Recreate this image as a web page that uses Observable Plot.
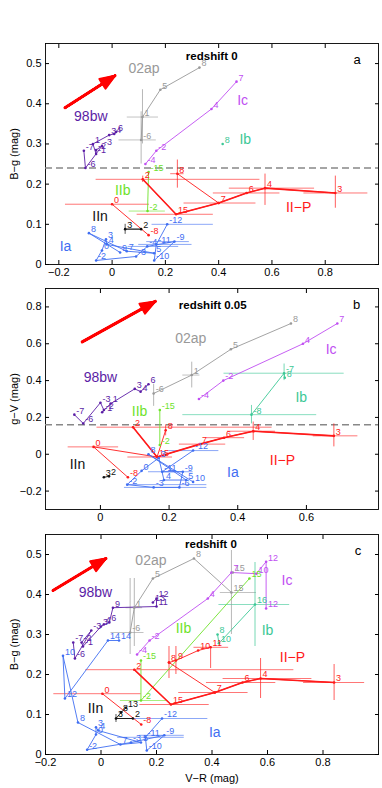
<!DOCTYPE html>
<html><head><meta charset="utf-8">
<script src="https://cdn.jsdelivr.net/npm/d3@7"></script>
<script src="https://cdn.jsdelivr.net/npm/@observablehq/plot@0.6"></script>
<style>body{margin:0;background:#fff;} #chart svg{display:block;background:#fff}</style>
</head><body><div id="chart"></div>
<script>
// ---------- colours per SN type ----------
const typeColors = {"98bw":"#5b1da6","02ap":"#999999","Ic":"#c04ef2","Ib":"#3cc896","IIb":"#6ee22a","II-P":"#ff1a1a","IIn":"#111111","Ia":"#3f6ef2"};

// ---------- panel a : redshift 0, B-g vs V-R ----------
// [epoch label, V-R, colour, track]
const a_98bw = [["-7",-0.106,0.283],["-6",-0.10,0.24],["-3",-0.038,0.295],["-2",-0.06,0.285],["-1",-0.06,0.275],["1",-0.072,0.30],["3",-0.011,0.322],["4",0.008,0.325],["6",0.015,0.33]];
const a_02ap = [["-6",0.109,0.31],["1",0.114,0.367],["5",0.181,0.435],["8",0.328,0.49]];
const a_Ic = [["-4",0.125,0.25],["-2",0.166,0.283],["4",0.373,0.387],["7",0.467,0.455]];
const a_Ib = [["8",0.415,0.30]];
const a_IIb = [["-15",0.137,0.23],["-2",0.133,0.133]];
const a_IIP = [["-8",0.137,0.073,0],["0",0.0,0.15,0],["2",0.115,0.212,1],["15",0.24,0.125,1],["7",0.40,0.153,1],["6",0.505,0.178,1],["4",0.574,0.19,1],["3",0.838,0.178,1],["8",0.245,0.226,2],["",0.40,0.153,2]];
const a_IIn = [["3",0.049,0.088],["2",0.109,0.088]];
const a_Ia = [["-12",0.207,0.10],["-11",0.166,0.05],["-10",0.158,0.01],["-9",0.234,0.057],["-4",0.132,0.045],["-3",0.09,0.02],["-2",-0.06,0.01],["0",-0.038,0.035],["3",-0.023,0.063],["4",-0.02,0.05],["5",0.158,0.028],["7",0.055,0.033],["8",-0.087,0.078],["9",0.03,0.03]];
// [type, x, y, xlo, xhi, ylo, yhi]
const a_err = [
 ["02ap",0.114,0.367,0.057,0.174,0.30,0.435],["02ap",0.109,0.31,0.026,0.166,0.25,0.38],
 ["IIb",0.133,0.133,0.064,0.2,null,null],
 ["II-P",0.0,0.15,-0.175,0.14,null,null],["II-P",0.115,0.212,-0.06,0.555,0.204,0.22],
 ["II-P",0.245,0.226,0.22,0.27,0.19,0.26],["II-P",0.24,0.125,0.094,0.38,null,null],
 ["II-P",0.40,0.153,0.27,0.54,null,null],["II-P",0.505,0.178,0.38,0.63,null,null],
 ["II-P",0.574,0.19,0.44,0.76,0.147,0.225],["II-P",0.838,0.178,0.72,0.96,0.14,0.22],
 ["IIn",0.049,0.088,0.049,0.109,0.075,0.1],
 ["Ia",0.207,0.10,0.15,0.38,null,null],["Ia",0.166,0.05,0.10,0.30,null,null],
 ["Ia",0.234,0.057,0.13,0.29,null,null],["Ia",0.132,0.045,0.06,0.25,null,null]];
const a_names = [["98bw",-0.08,0.368,"98bw"],["02ap",0.12,0.487,"02ap"],["Ic",0.49,0.407,"Ic"],["Ib",0.50,0.31,"Ib"],["IIb",0.04,0.185,"IIb"],["IIn",-0.045,0.12,"IIn"],["II−P",0.70,0.143,"II-P"],["Ia",-0.175,0.045,"Ia"]];
const a_arrow = [-0.177,0.39,0.011,0.47];

// ---------- panel b : redshift 0.05, g-V vs V-R ----------
const b_98bw = [["-7",-0.076,0.215],["-6",-0.05,0.167],["-3",0.0,0.28],["-2",0.01,0.24],["-1",0.005,0.228],["1",0.03,0.275],["3",0.10,0.355],["4",0.117,0.34],["6",0.14,0.38]];
const b_02ap = [["-6",0.155,0.33],["1",0.266,0.43],["5",0.38,0.57],["8",0.555,0.71]];
const b_Ic = [["-4",0.287,0.30],["-2",0.358,0.40],["4",0.59,0.60],["7",0.69,0.71]];
const b_Ib = [["-8",0.44,0.215],["-7",0.535,0.44],["8",0.537,0.415]];
const b_IIb = [["-15",0.173,0.24],["-2",0.173,0.05]];
const b_IIP = [["-8",0.08,-0.125,0],["0",-0.02,0.04,0],["",0.165,-0.015,0],["2",0.095,0.147,1],["15",0.165,-0.015,1],["7",0.29,0.055,1],["6",0.36,0.09,1],["4",0.445,0.125,1],["3",0.68,0.10,1],["8",0.19,0.13,2],["",0.165,-0.015,2]];
const b_IIn = [["3",0.01,-0.125],["2",0.025,-0.12]];
const b_Ia = [["-12",0.27,0.02],["-11",0.18,-0.095],["-9",0.24,-0.095],["-6",0.23,-0.18],["-3",0.155,-0.18],["-2",0.078,-0.165],["0",0.12,-0.09],["3",0.17,-0.02],["4",0.185,-0.14],["5",0.25,-0.14],["8",0.14,0.0],["10",0.27,-0.15]];
const b_err = [
 ["02ap",0.155,0.33,null,null,0.26,0.38],["02ap",0.266,0.43,0.24,0.29,0.36,0.50],
 ["Ib",0.535,0.44,0.36,0.71,0.40,0.49],["Ib",0.44,0.215,0.24,0.63,0.165,0.265],
 ["II-P",-0.02,0.04,-0.094,0.053,null,null],["II-P",0.095,0.147,-0.01,0.50,null,null],
 ["II-P",0.19,0.13,null,null,0.10,0.16],["II-P",0.165,-0.015,0.08,0.21,null,null],
 ["II-P",0.29,0.055,0.23,0.365,null,null],["II-P",0.36,0.09,0.31,0.42,null,null],
 ["II-P",0.445,0.125,0.37,0.51,0.075,0.175],["II-P",0.68,0.10,0.62,0.75,0.04,0.165],
 ["Ia",0.27,0.02,0.195,0.345,null,null],["Ia",0.18,-0.095,0.14,0.27,null,null],
 ["Ia",0.155,-0.18,0.07,0.31,null,null],["Ia",0.25,-0.165,0.08,0.31,null,null]];
const b_names = [["98bw",0.0,0.416,"98bw"],["02ap",0.263,0.63,"02ap"],["Ic",0.672,0.567,"Ic"],["Ib",0.585,0.31,"Ib"],["IIb",0.114,0.23,"IIb"],["IIn",-0.067,-0.054,"IIn"],["II−P",0.53,-0.032,"II-P"],["Ia",0.386,-0.1,"Ia"]];
const b_arrow = [-0.053,0.61,0.16,0.83];

// ---------- panel c : redshift 0, B-g vs V-R, extended epochs ----------
const c_98bw = [["-7",-0.1,0.28],["-6",-0.094,0.24],["-3",-0.035,0.31],["-2",-0.07,0.28],["-1",-0.065,0.27],["3",0.0,0.32],["4",0.01,0.325],["6",0.03,0.33],["9",0.043,0.367],["11",0.2,0.37],["12",0.2,0.39],["13",0.187,0.38]];
const c_02ap = [["-6",0.105,0.305,0],["1",0.12,0.367,0],["5",0.187,0.44,0],["8",0.335,0.49,0],["15",0.47,0.405,0],["15",0.475,0.455,1]];
const c_Ic = [["-4",0.13,0.25],["-2",0.175,0.285],["4",0.385,0.39],["7",0.47,0.455],["10",0.56,0.452],["12",0.595,0.482],["12",0.595,0.365]];
const c_Ib = [["8",0.42,0.30],["10",0.425,0.278],["16",0.555,0.375]];
const c_IIb = [["-15",0.144,0.235],["-2",0.144,0.135],["15",0.535,0.44]];
const c_IIP = [["-8",0.145,0.075,0],["0",0.005,0.152,0],["2",0.12,0.212,1],["15",0.252,0.125,1],["7",0.41,0.155,1],["6",0.51,0.18,1],["4",0.575,0.19,1],["3",0.84,0.18,1],["8",0.245,0.23,2],["",0.41,0.155,2],["",0.245,0.23,3],["9",0.27,0.235,3],["10",0.35,0.26,3],["11",0.395,0.268,3]];
const c_IIn = [["2",0.115,0.09],["3",0.054,0.09],["8",0.072,0.105],["13",0.09,0.117]];
const c_Ia = [["-12",0.22,0.09],["-11",0.16,0.043],["-10",0.165,0.01],["-9",0.228,0.048],["-3",0.108,0.03],["-2",-0.05,0.012],["0",-0.018,0.05],["3",-0.018,0.068],["4",-0.01,0.06],["5",0.144,0.03],["7",0.07,0.025],["8",-0.083,0.08],["10",-0.137,0.247],["12",-0.13,0.14],["14",0.025,0.285],["14",0.065,0.285]];
const c_err = [
 ["02ap",0.105,0.305,0.036,0.155,0.25,0.44],["02ap",0.12,0.367,0.09,0.15,0.27,0.44],
 ["02ap",0.47,0.405,0.43,0.56,0.30,0.51],
 ["Ib",0.555,0.375,0.425,0.68,0.27,0.48],
 ["IIb",0.144,0.135,0.07,0.24,null,null],
 ["II-P",0.005,0.152,-0.17,0.145,null,null],["II-P",0.12,0.212,-0.055,0.695,null,null],
 ["II-P",0.245,0.23,null,null,0.19,0.27],["II-P",0.27,0.235,null,null,0.20,0.27],
 ["II-P",0.395,0.268,0.335,0.46,0.215,0.27],["II-P",0.252,0.125,0.14,0.39,null,null],
 ["II-P",0.41,0.155,0.28,0.53,null,null],["II-P",0.51,0.18,0.38,0.63,null,null],
 ["II-P",0.575,0.19,0.44,0.76,0.14,0.24],["II-P",0.84,0.18,0.73,0.95,0.135,0.225],
 ["IIn",0.054,0.09,0.054,0.115,0.08,0.1],
 ["Ia",0.22,0.09,0.1,0.385,null,null],["Ia",0.16,0.043,0.06,0.3,null,null],["Ia",0.228,0.048,0.14,0.3,null,null]];
const c_names = [["98bw",-0.02,0.405,"98bw"],["02ap",0.18,0.485,"02ap"],["Ic",0.67,0.435,"Ic"],["Ib",0.60,0.31,"Ib"],["IIb",0.297,0.315,"IIb"],["IIn",-0.02,0.115,"IIn"],["II−P",0.69,0.243,"II-P"],["Ia",0.41,0.055,"Ia"]];
const c_arrow = [-0.173,0.41,0.018,0.49];

// ---------- axis ticks ----------
const xTicksAC = [-0.2,0,0.2,0.4,0.6,0.8];
const yTicksAC = [0,0.1,0.2,0.3,0.4,0.5];
const xTicksB = [0,0.2,0.4,0.6];
const yTicksB = [-0.2,0,0.2,0.4,0.6,0.8];

// ---------- helpers ----------
const fmt = d => d === 0 ? "0" : d3.format(".1f")(d);
function flatten(series){
  const out = [];
  for (const [type, arr] of Object.entries(series))
    arr.forEach(([label,x,y,track=0]) => out.push({type,label,x,y,track:type+"_"+track,color:typeColors[type]}));
  return out;
}
function panel(cfg){
  const pts = flatten(cfg.series);
  const errs = cfg.errs.map(([type,x,y,xlo,xhi,ylo,yhi]) => ({type,x,y,xlo,xhi,ylo,yhi,color:typeColors[type]}));
  const names = cfg.names.map(([text,x,y,type]) => ({text,x,y,color:typeColors[type]}));
  const A = cfg.arrow;
  const arr = {x1:d=>d[0],y1:d=>d[1],x2:d=>d[2],y2:d=>d[3]};
  const wedge = d3.range(0, 24, 3).map(h => Plot.arrow([A], {...arr, stroke:"#ff0000", strokeWidth:2, headAngle:2*h, headLength:0.75*15/Math.cos(h*Math.PI/180)}));
  const marks = [
    Plot.frame({stroke:"#000", strokeWidth:0.9}),
    cfg.dashed != null ? Plot.ruleY([cfg.dashed], {stroke:"#888", strokeWidth:1.4, strokeDasharray:"7,4"}) : null,
    Plot.ruleY(errs.filter(d=>d.xlo!=null), {y:"y", x1:"xlo", x2:"xhi", stroke:"color", strokeOpacity:0.6, strokeWidth:1}),
    Plot.ruleX(errs.filter(d=>d.ylo!=null), {x:"x", y1:"ylo", y2:"yhi", stroke:"color", strokeOpacity:0.7, strokeWidth:1}),
    Plot.line(pts, {x:"x", y:"y", z:"track", stroke:"color", strokeWidth:0.9}),
    Plot.line(pts.filter(d=>d.track==="II-P_1"), {x:"x", y:"y", stroke:"color", strokeWidth:1.6}),
    Plot.dot(pts, {x:"x", y:"y", r:1.3, fill:"color"}),
    Plot.text(pts, {x:"x", y:"y", text:"label", fill:"color", dx:2, dy:-4, textAnchor:"start", fontSize:9}),
    Plot.text(names, {x:"x", y:"y", text:"text", fill:"color", fontSize:14}),
    Plot.text([cfg.title], {x:d=>d[1], y:d=>d[2], text:d=>d[0], fontWeight:"bold", fontSize:11.5, fill:"#000"}),
    Plot.text([cfg.letter], {x:d=>d[1], y:d=>d[2], text:d=>d[0], fontSize:13, fill:"#000"}),
    Plot.arrow([A], {...arr, stroke:"#ff0000", strokeWidth:3, headLength:0}),
    ...wedge,
    Plot.axisX(cfg.xTicks, {tickSize:0, tickPadding:4, tickFormat:fmt, fontSize:11, label: cfg.xLabel ?? null, labelAnchor:"center", labelOffset:27, labelArrow:"none"}),
    Plot.axisX(cfg.xTicks, {anchor:"bottom", tickSize:-4, tickFormat:()=>"", label:null}),
    Plot.axisX(cfg.xTicks, {anchor:"top", tickSize:-4, tickFormat:()=>"", label:null}),
    Plot.axisY(cfg.yTicks, {tickSize:0, tickPadding:4, tickFormat:fmt, fontSize:11, label:cfg.yLabel, labelAnchor:"center", labelOffset:35, labelArrow:"none"}),
    Plot.axisY(cfg.yTicks, {anchor:"left", tickSize:-4, tickFormat:()=>"", label:null}),
    Plot.axisY(cfg.yTicks, {anchor:"right", tickSize:-4, tickFormat:()=>"", label:null})
  ].filter(Boolean);
  return Plot.plot({
    width:382, height:cfg.height,
    marginLeft:45, marginRight:4, marginTop:cfg.marginTop, marginBottom:cfg.marginBottom,
    x:{domain:cfg.xDomain}, y:{domain:cfg.yDomain},
    color:{type:"identity"},
    style:{fontFamily:"'Liberation Sans', Arial, Helvetica, sans-serif", fontSize:"11px", background:"#fff", overflow:"visible"},
    marks
  });
}

const chart = document.getElementById("chart");
chart.append(panel({height:280, marginTop:43, marginBottom:16, xDomain:[-0.25,1.0], yDomain:[0,0.55],
  xTicks:xTicksAC, yTicks:yTicksAC, yLabel:"B−g (mag)", dashed:0.24,
  series:{"98bw":a_98bw,"02ap":a_02ap,"Ic":a_Ic,"Ib":a_Ib,"IIb":a_IIb,"II-P":a_IIP,"IIn":a_IIn,"Ia":a_Ia},
  errs:a_err, names:a_names, arrow:a_arrow, title:["redshift 0",0.374,0.518], letter:["a",0.92,0.51]}));
chart.append(panel({height:249, marginTop:8, marginBottom:20, xDomain:[-0.16,0.81], yDomain:[-0.3,0.9],
  xTicks:xTicksB, yTicks:yTicksB, yLabel:"g−V (mag)", dashed:0.16,
  series:{"98bw":b_98bw,"02ap":b_02ap,"Ic":b_Ic,"Ib":b_Ib,"IIb":b_IIb,"II-P":b_IIP,"IIn":b_IIn,"Ia":b_Ia},
  errs:b_err, names:b_names, arrow:b_arrow, title:["redshift 0.05",0.327,0.81], letter:["b",0.746,0.81]}));
chart.append(panel({height:259, marginTop:5, marginBottom:34, xDomain:[-0.2,1.0], yDomain:[0,0.55],
  xTicks:xTicksAC, yTicks:yTicksAC, yLabel:"B−g (mag)", xLabel:"V−R (mag)", dashed:null,
  series:{"98bw":c_98bw,"02ap":c_02ap,"Ic":c_Ic,"Ib":c_Ib,"IIb":c_IIb,"II-P":c_IIP,"IIn":c_IIn,"Ia":c_Ia},
  errs:c_err, names:c_names, arrow:c_arrow, title:["redshift 0",0.396,0.525], letter:["c",0.926,0.51]}));
</script>
</body></html>
